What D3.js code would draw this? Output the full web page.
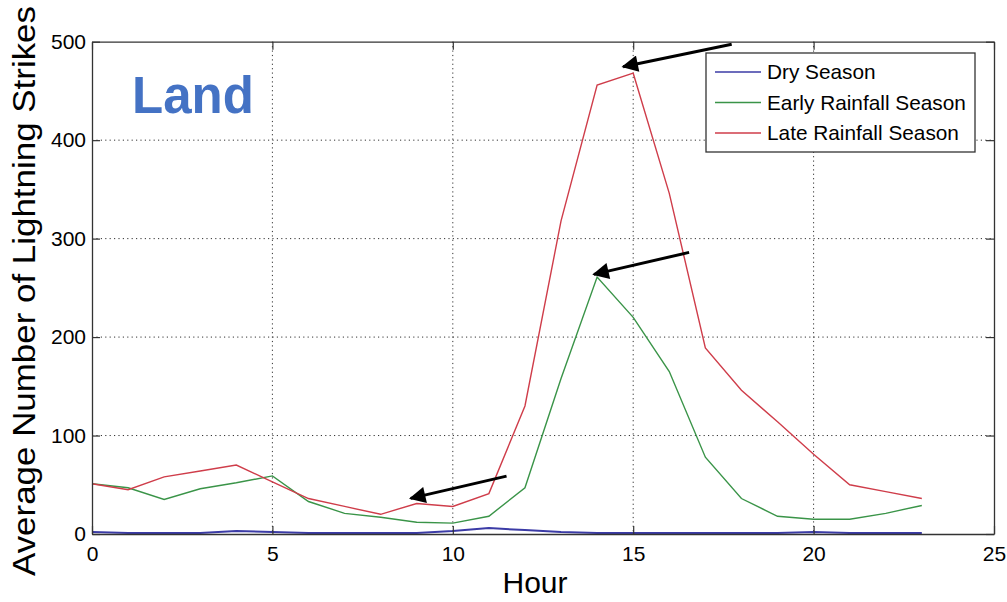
<!DOCTYPE html>
<html>
<head>
<meta charset="utf-8">
<script src="https://cdn.jsdelivr.net/npm/d3@7"></script>
<style>
  body { margin: 0; background: #fff; }
  svg text { font-family: "Liberation Sans", Arial, Helvetica, sans-serif; fill: #000; }
</style>
</head>
<body>
<div id="chart"></div>
<script>
// data
const hours = [0,1,2,3,4,5,6,7,8,9,10,11,12,13,14,15,16,17,18,19,20,21,22,23];
const drySeason   = [2,1,1,1,3,2,1,1,1,1,3,6,4,2,1,1,1,1,1,1,2,1,1,1];
const earlyRain   = [51,47,35,46,52,59,33,21,17,12,11,18,47,158,261,220,165,78,36,18,15,15,21,29];
const lateRain    = [51,45,58,64,70,53,36,28,20,31,28,41,130,318,456,468,346,189,146,114,81,50,43,36];
const seriesNames = ["Dry Season", "Early Rainfall Season", "Late Rainfall Season"];
const xTicks = [0,5,10,15,20,25];
const yTicks = [0,100,200,300,400,500];
// arrows: [hourFrom, valueFrom, hourTo, valueTo]
const arrows = [
  [11.49, 58.8, 8.83, 36.2],
  [16.55, 286, 13.91, 263.7],
  [17.73, 497.5, 14.72, 474.6]
];

const colors = ["#3b3ba6", "#3a9448", "#cf3d4a"];

const W = 1007, H = 602;
const margin = {top: 41.7, right: 13, bottom: 68, left: 92};
const width = W - margin.left - margin.right;
const height = H - margin.top - margin.bottom;

const svg = d3.select("#chart").append("svg")
    .attr("width", W)
    .attr("height", H);

const g = svg.append("g")
    .attr("transform", "translate(" + margin.left + "," + margin.top + ")");

const x = d3.scaleLinear().domain([0, 25]).range([0, width]);
const y = d3.scaleLinear().domain([0, 500]).range([height, 0]);

// dotted grid
g.append("g").selectAll("line.vg")
    .data(xTicks.slice(1, -1)).enter().append("line")
    .attr("x1", d => x(d)).attr("x2", d => x(d))
    .attr("y1", 0).attr("y2", height)
    .attr("stroke", "#333").attr("stroke-width", 1)
    .attr("stroke-dasharray", "1.2,3.2");
g.append("g").selectAll("line.hg")
    .data(yTicks.slice(1, -1)).enter().append("line")
    .attr("y1", d => y(d)).attr("y2", d => y(d))
    .attr("x1", 0).attr("x2", width)
    .attr("stroke", "#333").attr("stroke-width", 1)
    .attr("stroke-dasharray", "1.2,3.2");

// series lines
const line = d3.line().x((d, i) => x(hours[i])).y(d => y(d));
const allSeries = [drySeason, earlyRain, lateRain];
g.append("g").selectAll("path")
    .data(allSeries).enter().append("path")
    .attr("d", d => line(d))
    .attr("fill", "none")
    .attr("stroke", (d, i) => colors[i])
    .attr("stroke-width", (d, i) => i === 0 ? 2 : 1.4);

// axes (ticks point inward, box on all sides)
const axisStyle = sel => {
  sel.select(".domain").attr("stroke", "#333").attr("stroke-width", 1.3);
  sel.selectAll(".tick line").attr("stroke", "#333").attr("stroke-width", 1.2);
  sel.selectAll(".tick text").style("font-size", "21px").attr("fill", "#000");
};

g.append("g").attr("transform", "translate(0," + height + ")")
    .call(d3.axisBottom(x).tickValues(xTicks).tickSize(-8).tickSizeOuter(0).tickPadding(12))
    .call(axisStyle);
g.append("g")
    .call(d3.axisTop(x).tickValues(xTicks).tickSize(-8).tickSizeOuter(0).tickFormat(""))
    .call(axisStyle);
g.append("g")
    .call(d3.axisLeft(y).tickValues(yTicks).tickSize(-8).tickSizeOuter(0).tickPadding(6))
    .call(axisStyle);
g.append("g").attr("transform", "translate(" + width + ",0)")
    .call(d3.axisRight(y).tickValues(yTicks).tickSize(-8).tickSizeOuter(0).tickFormat(""))
    .call(axisStyle);

// axis titles
svg.append("text")
    .attr("x", margin.left + x(12.5) - 8)
    .attr("y", 593)
    .attr("text-anchor", "middle")
    .style("font-size", "30px")
    .text("Hour");
svg.append("text")
    .attr("transform", "translate(35,291) rotate(-90)")
    .attr("text-anchor", "middle")
    .attr("textLength", 570)
    .attr("lengthAdjust", "spacingAndGlyphs")
    .style("font-size", "31px")
    .text("Average Number of Lightning Strikes");

// "Land" label
svg.append("text")
    .attr("x", 132).attr("y", 113)
    .style("font-size", "51px")
    .style("font-weight", "bold")
    .style("fill", "#4472c4")
    .text("Land");

// arrows
svg.append("defs").append("marker")
    .attr("id", "head")
    .attr("viewBox", "0 0 10 10")
    .attr("refX", 9).attr("refY", 5)
    .attr("markerWidth", 6.5).attr("markerHeight", 5.5)
    .attr("markerUnits", "strokeWidth")
    .attr("orient", "auto")
    .append("path").attr("d", "M0,0 L10,5 L0,10 z").attr("fill", "#000");

g.append("g").selectAll("line")
    .data(arrows).enter().append("line")
    .attr("x1", d => x(d[0])).attr("y1", d => y(d[1]))
    .attr("x2", d => x(d[2])).attr("y2", d => y(d[3]))
    .attr("stroke", "#000").attr("stroke-width", 3)
    .attr("marker-end", "url(#head)");

// legend
const legend = svg.append("g").attr("transform", "translate(706,53)");
legend.append("rect")
    .attr("width", 269).attr("height", 99)
    .attr("fill", "#fff").attr("stroke", "#333").attr("stroke-width", 1.3);
seriesNames.forEach((name, i) => {
  const yy = 19 + i * 30.5;
  legend.append("line")
      .attr("x1", 9).attr("x2", 55)
      .attr("y1", yy).attr("y2", yy)
      .attr("stroke", colors[i]).attr("stroke-width", 1.4);
  legend.append("text")
      .attr("x", 61).attr("y", yy + 7)
      .style("font-size", "20.8px")
      .text(name);
});
</script>
</body>
</html>
